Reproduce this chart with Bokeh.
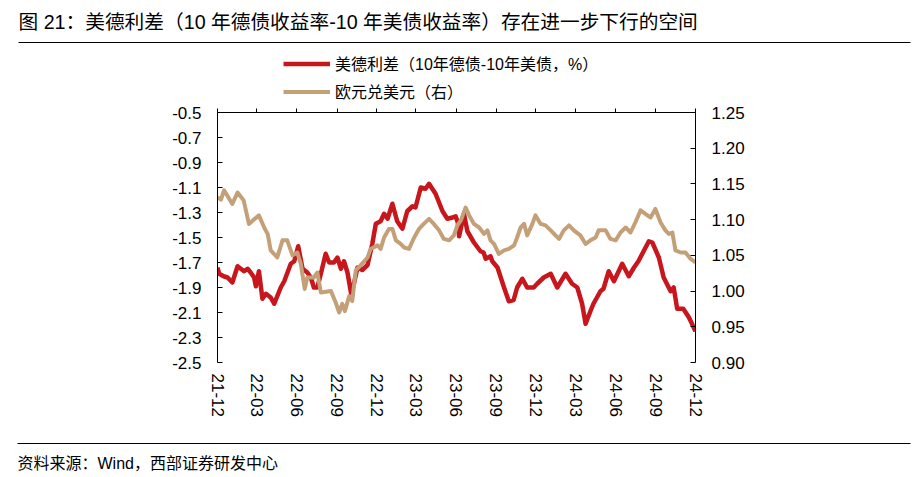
import math
import pandas as pd
from bokeh.plotting import figure
from bokeh.layouts import column
from bokeh.models import (Range1d, LinearAxis, DatetimeAxis, FixedTicker, DatetimeTickFormatter,
                          NumeralTickFormatter, Legend, LegendItem, Label, ColumnDataSource)
from bokeh.embed import file_html
from bokeh.resources import INLINE

# ---------------- data ----------------
spread_dates = [
    "2021-12-01", "2021-12-05", "2021-12-15", "2021-12-24", "2022-01-04", "2022-01-16",
    "2022-01-31", "2022-02-08", "2022-02-15", "2022-02-23", "2022-02-27", "2022-03-06",
    "2022-03-14", "2022-03-22", "2022-04-02", "2022-04-10", "2022-04-25", "2022-05-03",
    "2022-05-18", "2022-05-26", "2022-06-04", "2022-06-14", "2022-06-25", "2022-07-03",
    "2022-07-10", "2022-07-18", "2022-07-26", "2022-08-06", "2022-08-14", "2022-08-25",
    "2022-09-02", "2022-09-10", "2022-09-17", "2022-09-25", "2022-10-04", "2022-10-18",
    "2022-10-29", "2022-11-10", "2022-11-21", "2022-11-29", "2022-12-10", "2022-12-18",
    "2022-12-26", "2023-01-06", "2023-01-17", "2023-01-29", "2023-02-09", "2023-02-21",
    "2023-02-28", "2023-03-12", "2023-03-23", "2023-03-31", "2023-04-15", "2023-05-01",
    "2023-05-12", "2023-05-24", "2023-05-31", "2023-06-05", "2023-06-08", "2023-06-19",
    "2023-06-27", "2023-07-12", "2023-07-27", "2023-08-03", "2023-08-08", "2023-08-19",
    "2023-08-23", "2023-09-04", "2023-09-19", "2023-09-30", "2023-10-11", "2023-10-19",
    "2023-10-31", "2023-11-11", "2023-11-26", "2023-12-04", "2023-12-19", "2024-01-04",
    "2024-01-19", "2024-02-07", "2024-02-22", "2024-03-05", "2024-03-16", "2024-03-24",
    "2024-04-04", "2024-04-11", "2024-04-27", "2024-05-04", "2024-05-16", "2024-05-28",
    "2024-06-16", "2024-07-01", "2024-07-13", "2024-07-23", "2024-08-04", "2024-08-16",
    "2024-08-24", "2024-09-08", "2024-09-19", "2024-10-05", "2024-10-12", "2024-10-20",
    "2024-11-03", "2024-11-16", "2024-12-01",
]
spread_values = [
    -1.74, -1.79, -1.81, -1.82, -1.86, -1.73,
    -1.77, -1.75, -1.78, -1.82, -1.89, -1.77,
    -1.99, -1.95, -1.98, -2.03, -1.90, -1.85,
    -1.71, -1.69, -1.57, -1.75, -1.78, -1.82,
    -1.90, -1.90, -1.79, -1.63, -1.70, -1.70,
    -1.66, -1.75, -1.69, -1.78, -1.96, -1.74,
    -1.76, -1.72, -1.55, -1.39, -1.37, -1.31,
    -1.35, -1.23, -1.37, -1.43, -1.29, -1.25,
    -1.26, -1.10, -1.11, -1.07, -1.15, -1.29,
    -1.35, -1.34, -1.33, -1.38, -1.49, -1.31,
    -1.45, -1.54, -1.61, -1.62, -1.67, -1.65,
    -1.69, -1.74, -1.90, -2.01, -2.00, -1.90,
    -1.83, -1.90, -1.90, -1.87, -1.82, -1.79,
    -1.90, -1.79, -1.87, -1.90, -2.03, -2.19,
    -2.09, -2.03, -1.93, -1.91, -1.77, -1.85,
    -1.71, -1.81, -1.74, -1.69, -1.61, -1.53,
    -1.54, -1.66, -1.82, -1.93, -1.90, -2.07,
    -2.07, -2.14, -2.25,
]

eurusd_dates = [
    "2021-12-01", "2021-12-09", "2021-12-16", "2021-12-24", "2022-01-04", "2022-01-16",
    "2022-01-30", "2022-02-11", "2022-02-22", "2022-03-06", "2022-03-18", "2022-03-26",
    "2022-04-02", "2022-04-17", "2022-04-29", "2022-05-10", "2022-05-22", "2022-06-02",
    "2022-06-10", "2022-06-19", "2022-06-25", "2022-07-10", "2022-07-18", "2022-07-26",
    "2022-08-18", "2022-08-29", "2022-09-06", "2022-09-13", "2022-09-19", "2022-09-29",
    "2022-10-06", "2022-10-14", "2022-10-25", "2022-11-10", "2022-11-17", "2022-12-03",
    "2022-12-10", "2022-12-18", "2022-12-29", "2023-01-06", "2023-01-14", "2023-01-25",
    "2023-02-02", "2023-02-13", "2023-02-25", "2023-03-08", "2023-03-19", "2023-03-31",
    "2023-04-11", "2023-04-23", "2023-05-04", "2023-05-16", "2023-05-27", "2023-06-04",
    "2023-06-12", "2023-06-23", "2023-07-01", "2023-07-12", "2023-07-24", "2023-08-04",
    "2023-08-12", "2023-08-19", "2023-08-27", "2023-09-07", "2023-09-19", "2023-09-30",
    "2023-10-12", "2023-10-19", "2023-10-27", "2023-11-04", "2023-11-11", "2023-11-23",
    "2023-11-30", "2023-12-12", "2023-12-23", "2024-01-04", "2024-01-15", "2024-01-23",
    "2024-02-03", "2024-02-15", "2024-02-26", "2024-03-12", "2024-03-24", "2024-04-04",
    "2024-04-16", "2024-04-23", "2024-05-09", "2024-05-20", "2024-06-01", "2024-06-12",
    "2024-06-24", "2024-07-05", "2024-07-16", "2024-07-28", "2024-08-08", "2024-08-20",
    "2024-08-31", "2024-09-12", "2024-09-23", "2024-10-01", "2024-10-09", "2024-10-16",
    "2024-10-28", "2024-11-08", "2024-11-20", "2024-12-01",
]
eurusd_values = [
    1.131, 1.128, 1.141, 1.133, 1.122, 1.138,
    1.127, 1.094, 1.100, 1.106, 1.089, 1.080,
    1.057, 1.047, 1.071, 1.071, 1.050, 1.054,
    1.038, 1.003, 1.019, 1.019, 1.026, 0.998,
    1.000, 0.984, 0.970, 0.982, 0.972, 0.993,
    0.986, 1.029, 1.036, 1.047, 1.059, 1.064,
    1.059, 1.075, 1.087, 1.087, 1.071, 1.066,
    1.061, 1.059, 1.075, 1.087, 1.094, 1.101,
    1.094, 1.085, 1.073, 1.071, 1.078, 1.092,
    1.099, 1.117, 1.106, 1.094, 1.089, 1.080,
    1.085, 1.071, 1.066, 1.052, 1.057, 1.059,
    1.064, 1.075, 1.089, 1.094, 1.078, 1.094,
    1.106, 1.094, 1.092, 1.085, 1.078, 1.073,
    1.085, 1.092, 1.085, 1.078, 1.066, 1.071,
    1.075, 1.085, 1.085, 1.073, 1.071, 1.082,
    1.089, 1.082, 1.096, 1.113, 1.108, 1.103,
    1.115, 1.096, 1.085, 1.080, 1.082, 1.057,
    1.054, 1.054, 1.045, 1.040,
]

x_tick_labels = ["21-12", "22-03", "22-06", "22-09", "22-12", "23-03", "23-06",
                 "23-09", "23-12", "24-03", "24-06", "24-09", "24-12"]
left_ticks = [-2.5, -2.3, -2.1, -1.9, -1.7, -1.5, -1.3, -1.1, -0.9, -0.7, -0.5]
right_ticks = [0.90, 0.95, 1.00, 1.05, 1.10, 1.15, 1.20, 1.25]

title_text = "图 21：美德利差（10 年德债收益率-10 年美债收益率）存在进一步下行的空间"
source_text = "资料来源：Wind，西部证券研发中心"
legend_labels = ["美德利差（10年德债-10年美债，%）", "欧元兑美元（右）"]

# ---------------- styling ----------------
RED = "#C8161D"
TAN = "#C4A078"
FONT = "'Liberation Sans', 'Noto Sans CJK SC', sans-serif"
TXT = "#000000"
W = 912
RED_W = 4.5
TAN_W = 4

# ---------------- header figure (title, rule, legend) ----------------
TOP_H = 104
top = figure(width=W, height=TOP_H, x_range=Range1d(0, W), y_range=Range1d(TOP_H, 0),
             x_axis_location=None, y_axis_location=None, min_border=0,
             output_backend="svg", toolbar_location=None, frame_align=False)
top.outline_line_color = None
top.xgrid.visible = False
top.ygrid.visible = False
top.add_layout(Label(x=18, y=21, text=title_text, text_font=FONT, text_font_size="19.7px",
                     text_baseline="middle", text_color=TXT))
top.segment(x0=[18], y0=[42], x1=[W - 2], y1=[42], line_color="black", line_width=1)
# legend swatches (kept outside the visible area of the header; only used by the legend)
leg_red = top.line(x=[-60, -50], y=[-60, -60], line_color=RED, line_width=RED_W)
leg_tan = top.line(x=[-60, -50], y=[-60, -60], line_color=TAN, line_width=TAN_W)
legend = Legend(items=[LegendItem(label=legend_labels[0], renderers=[leg_red]),
                       LegendItem(label=legend_labels[1], renderers=[leg_tan])],
                location=(283, 0.5), orientation="vertical",
                glyph_width=47, glyph_height=25, label_height=25, label_standoff=5,
                spacing=3, padding=0, margin=0,
                border_line_color=None, background_fill_alpha=0,
                label_text_font=FONT, label_text_font_size="16px", label_text_color=TXT)
top.add_layout(legend)

# ---------------- main chart ----------------
tick_dates = [pd.Timestamp("20" + lab + "-01") for lab in x_tick_labels]
tick_ms = [float((t - pd.Timestamp("1970-01-01")) // pd.Timedelta(milliseconds=1)) for t in tick_dates]

src_spread = ColumnDataSource(dict(x=pd.to_datetime(spread_dates), y=spread_values))
src_eur = ColumnDataSource(dict(x=pd.to_datetime(eurusd_dates), y=eurusd_values))

FRAME_W, FRAME_H = 478, 250
B_LEFT, B_TOP, B_BOTTOM = 217, 8, 68
p = figure(width=W, height=B_TOP + FRAME_H + B_BOTTOM, x_axis_type="datetime",
           x_range=Range1d(start=tick_dates[0].to_pydatetime(), end=tick_dates[-1].to_pydatetime()),
           y_range=Range1d(left_ticks[0], left_ticks[-1]),
           output_backend="svg", toolbar_location=None, frame_align=False,
           min_border_left=B_LEFT, min_border_right=W - B_LEFT - FRAME_W,
           min_border_top=B_TOP, min_border_bottom=B_BOTTOM)
p.extra_y_ranges = {"eur": Range1d(right_ticks[0], right_ticks[-1])}
p.outline_line_color = None
p.xgrid.visible = False
p.ygrid.visible = False

fmt_all = "%y-%m"
dt_fmt = DatetimeTickFormatter(microseconds=fmt_all, milliseconds=fmt_all, seconds=fmt_all,
                               minsec=fmt_all, minutes=fmt_all, hourmin=fmt_all, hours=fmt_all,
                               days=fmt_all, months=fmt_all, years=fmt_all)

# bottom axis: labels only
xb = p.xaxis[0]
xb.ticker = FixedTicker(ticks=tick_ms)
xb.formatter = dt_fmt
xb.axis_line_color = None
xb.major_tick_line_color = None
xb.minor_tick_line_color = None
xb.major_tick_out = 0
xb.minor_tick_out = 0
xb.major_tick_in = 0
xb.major_label_orientation = -math.pi / 2
xb.major_label_standoff = 11
xb.major_label_text_font = FONT
xb.major_label_text_font_size = "17px"
xb.major_label_text_color = TXT

# top axis: line + outward ticks, no labels
xt = DatetimeAxis(ticker=FixedTicker(ticks=tick_ms), formatter=dt_fmt)
xt.axis_line_color = "black"
xt.major_tick_line_color = "black"
xt.minor_tick_line_color = None
xt.major_tick_out = 4
xt.major_tick_in = 0
xt.minor_tick_out = 0
xt.major_label_standoff = 0
xt.major_label_text_color = None
xt.major_label_text_font_size = "1px"
p.add_layout(xt, "above")

# left axis
yl = p.yaxis[0]
yl.ticker = FixedTicker(ticks=left_ticks)
yl.formatter = NumeralTickFormatter(format="0.0")
yl.axis_line_color = "black"
yl.major_tick_line_color = "black"
yl.minor_tick_line_color = None
yl.major_tick_in = 5
yl.major_tick_out = 0
yl.major_label_standoff = 16
yl.major_label_text_font = FONT
yl.major_label_text_font_size = "17px"
yl.major_label_text_color = TXT

# right axis
yr = LinearAxis(y_range_name="eur", ticker=FixedTicker(ticks=right_ticks),
                formatter=NumeralTickFormatter(format="0.00"))
yr.axis_line_color = "black"
yr.major_tick_line_color = "black"
yr.minor_tick_line_color = None
yr.major_tick_in = 5
yr.major_tick_out = 0
yr.major_label_standoff = 16
yr.major_label_text_font = FONT
yr.major_label_text_font_size = "17px"
yr.major_label_text_color = TXT
p.add_layout(yr, "right")

p.line("x", "y", source=src_spread, line_color=RED, line_width=RED_W, line_join="round")
p.line("x", "y", source=src_eur, y_range_name="eur", line_color=TAN, line_width=TAN_W,
       line_join="round")

# ---------------- footer figure (rule, source) ----------------
BOT_H = 45
bot = figure(width=W, height=BOT_H, x_range=Range1d(0, W), y_range=Range1d(BOT_H, 0),
             x_axis_location=None, y_axis_location=None, min_border=0,
             output_backend="svg", toolbar_location=None, frame_align=False)
bot.outline_line_color = None
bot.xgrid.visible = False
bot.ygrid.visible = False
bot.segment(x0=[17], y0=[13], x1=[W - 2], y1=[13], line_color="black", line_width=1)
bot.add_layout(Label(x=17, y=33, text=source_text, text_font=FONT, text_font_size="16px",
                     text_baseline="middle", text_color=TXT))

layout = column(top, p, bot, spacing=0)
open("out.html", "w").write(file_html(layout, INLINE))
